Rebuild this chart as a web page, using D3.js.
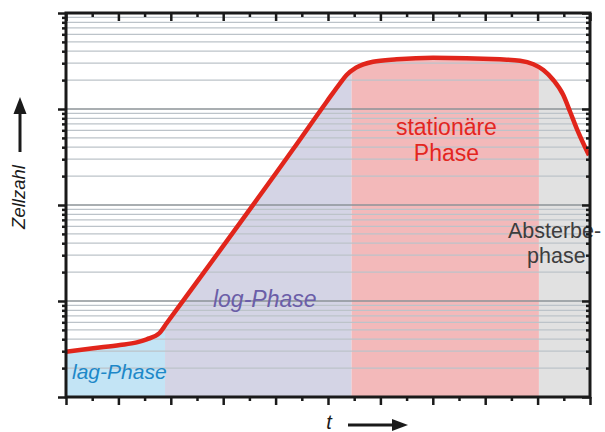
<!DOCTYPE html>
<html>
  <head>
    <meta charset="utf-8">
    <title>Wachstumskurve</title>
    <style>
      body { margin: 0; background: #fff; }
      svg { display: block; font-family: Arial, "Liberation Sans", Helvetica, sans-serif; }
    </style>
  </head>
  <body>
    <div id="chart"></div>
    <script src="https://d3js.org/d3.v7.min.js"></script>
    <script>
// growth curve (time in arbitrary units, cell count log scale)
const times  = [0, 1.04, 2.06, 2.70, 3.08, 3.57, 3.84, 5.11, 8.68, 9.95, 10.46, 10.71, 11.07, 11.72, 12.62, 14.01, 16.56, 17.33, 17.84, 18.22, 18.60, 18.98, 19.24, 19.49, 19.96];
const counts = [2.96, 3.22, 3.48, 3.71, 3.99, 4.64, 5.86, 17.4, 385, 1191, 1853, 2260, 2692, 3110, 3294, 3423, 3295, 3186, 2923, 2548, 2004, 1400, 937, 629, 330];

// phases: start/end on the time axis
const phaseNames  = ['lag', 'log', 'stationaer', 'absterbe'];
const phaseBounds = [0, 3.78, 10.9, 18.05, 20];
const phaseFill   = ['#c3e4f5', '#d4d4e5', '#f3b9ba', '#e1e1e1'];

const xTicks   = d3.range(0, 21);
const yDecades = [1, 10, 100, 1000, 10000];

const width = 605, height = 432;
const plot = { left: 66, right: 590, top: 13, bottom: 397 };

const x = d3.scaleLinear().domain([0, 20]).range([plot.left, plot.right]);
const y = d3.scaleLog().domain([1, 10000]).range([plot.bottom, plot.top]);

// minor log ticks 2..9 in every decade
const yMinor = [];
yDecades.slice(0, -1).forEach(d => {
  for (let m = 2; m <= 9; m++) yMinor.push(d * m);
});
const yAll = yDecades.concat(yMinor);

const svg = d3.select('#chart')
  .append('svg')
  .attr('width', width)
  .attr('height', height);

const pts = times.map((t, i) => [t, counts[i]]);

// clip rects for the phase fills
const defs = svg.append('defs');
phaseNames.forEach((p, i) => {
  defs.append('clipPath').attr('id', 'clip-' + p)
    .append('rect')
    .attr('x', x(phaseBounds[i]))
    .attr('y', plot.top)
    .attr('width', x(phaseBounds[i + 1]) - x(phaseBounds[i]))
    .attr('height', plot.bottom - plot.top);
});

const area = d3.area()
  .x(d => x(d[0]))
  .y0(y(1))
  .y1(d => y(d[1]))
  .curve(d3.curveMonotoneX);

phaseNames.forEach((p, i) => {
  svg.append('path')
    .attr('d', area(pts))
    .attr('fill', phaseFill[i])
    .attr('clip-path', `url(#clip-${p})`);
});

// gridlines
svg.selectAll('.grid-minor')
  .data(yMinor)
  .enter()
  .append('line')
  .attr('class', 'grid-minor')
  .attr('x1', plot.left).attr('x2', plot.right)
  .attr('y1', d => y(d)).attr('y2', d => y(d))
  .attr('stroke', '#bcc3c9')
  .attr('stroke-width', 1.2);

svg.selectAll('.grid-major')
  .data(yDecades.slice(1, -1))
  .enter()
  .append('line')
  .attr('class', 'grid-major')
  .attr('x1', plot.left).attr('x2', plot.right)
  .attr('y1', d => y(d)).attr('y2', d => y(d))
  .attr('stroke', '#8d9397')
  .attr('stroke-width', 1.3);

// phase labels
svg.append('text')
  .attr('x', x(0.23)).attr('y', y(1.54))
  .attr('font-size', 21).attr('font-style', 'italic')
  .attr('fill', '#1e88c8')
  .text('lag-Phase');

svg.append('text')
  .attr('x', x(5.61)).attr('y', y(8.66))
  .attr('font-size', 23).attr('font-style', 'italic')
  .attr('fill', '#6b5ea8')
  .text('log-Phase');

svg.append('text')
  .attr('x', x(14.52)).attr('y', y(536))
  .attr('font-size', 23).attr('text-anchor', 'middle')
  .attr('fill', '#e3261f')
  .text('stationäre');

svg.append('text')
  .attr('x', x(14.52)).attr('y', y(287))
  .attr('font-size', 23).attr('text-anchor', 'middle')
  .attr('fill', '#e3261f')
  .text('Phase');

svg.append('text')
  .attr('x', x(16.87)).attr('y', y(45.3))
  .attr('font-size', 21.5)
  .attr('fill', '#3d3d3d')
  .text('Absterbe-');

svg.append('text')
  .attr('x', x(17.6)).attr('y', y(24.9))
  .attr('font-size', 21.5)
  .attr('fill', '#3d3d3d')
  .text('phase');

// the curve
const line = d3.line()
  .x(d => x(d[0]))
  .y(d => y(d[1]))
  .curve(d3.curveMonotoneX);

svg.append('path')
  .attr('d', line(pts))
  .attr('fill', 'none')
  .attr('stroke', '#e1251b')
  .attr('stroke-width', 4.5)
  .attr('stroke-linejoin', 'round');

// axes (no labels, only ticks)
const isDecade = d => yDecades.includes(d);

const gB = svg.append('g').attr('transform', `translate(0,${plot.bottom})`)
  .call(d3.axisBottom(x).tickValues(xTicks).tickFormat('').tickSizeOuter(0));
gB.selectAll('.tick line').attr('y2', d => d % 2 === 0 ? 8 : 4);

const gT = svg.append('g').attr('transform', `translate(0,${plot.top})`)
  .call(d3.axisTop(x).tickValues(xTicks).tickFormat('').tickSizeOuter(0));
gT.selectAll('.tick line').attr('y2', d => d % 2 === 0 ? 8 : 4);

const gL = svg.append('g').attr('transform', `translate(${plot.left},0)`)
  .call(d3.axisLeft(y).tickValues(yAll).tickFormat('').tickSizeOuter(0));
gL.selectAll('.tick line').attr('x2', d => isDecade(d) ? -8 : -4);

const gR = svg.append('g').attr('transform', `translate(${plot.right},0)`)
  .call(d3.axisRight(y).tickValues(yAll).tickFormat('').tickSizeOuter(0));
gR.selectAll('.tick line').attr('x2', d => isDecade(d) ? -8 : -4);

[gB, gT, gL, gR].forEach(g => {
  g.select('.domain').remove();
  g.selectAll('.tick line').attr('stroke', '#1a1a1a').attr('stroke-width', 2.5);
});

svg.append('rect')
  .attr('x', plot.left).attr('y', plot.top)
  .attr('width', plot.right - plot.left).attr('height', plot.bottom - plot.top)
  .attr('fill', 'none')
  .attr('stroke', '#1a1a1a')
  .attr('stroke-width', 3);

// axis titles with arrows
svg.append('text')
  .attr('transform', 'translate(25,197) rotate(-90)')
  .attr('text-anchor', 'middle')
  .attr('font-size', 18.5).attr('font-style', 'italic')
  .attr('fill', '#1a1a1a')
  .text('Zellzahl');

svg.append('line')
  .attr('x1', 20).attr('x2', 20).attr('y1', 152).attr('y2', 110)
  .attr('stroke', '#1a1a1a').attr('stroke-width', 3);
svg.append('path')
  .attr('d', 'M13.5,114L20,97L26.5,114Z')
  .attr('fill', '#1a1a1a');

svg.append('text')
  .attr('x', 329).attr('y', 429)
  .attr('text-anchor', 'middle')
  .attr('font-size', 20).attr('font-style', 'italic')
  .attr('fill', '#1a1a1a')
  .text('t');

svg.append('line')
  .attr('x1', 348).attr('x2', 396).attr('y1', 425).attr('y2', 425)
  .attr('stroke', '#1a1a1a').attr('stroke-width', 3);
svg.append('path')
  .attr('d', 'M392,419L408,425L392,431Z')
  .attr('fill', '#1a1a1a');
    </script>
  </body>
</html>
